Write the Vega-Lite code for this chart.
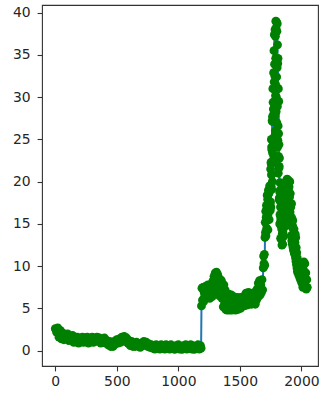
{
  "$schema": "https://vega.github.io/schema/vega-lite/v6.json",
  "width": 276,
  "height": 361,
  "autosize": {"type": "none"},
  "padding": {"left": 42, "top": 5, "right": 2, "bottom": 30},
  "background": "white",
  "config": {
    "view": {"stroke": "#333333", "strokeWidth": 1.1},
    "axis": {"grid": false, "domain": false, "tickColor": "#333333", "tickWidth": 1.1, "tickSize": 4.9, "labelFont": "DejaVu Sans", "labelFontSize": 13.9, "labelColor": "#262626", "title": null}
  },
  "data": {"values": [
    {"x":0,"y":2.6},{"x":10,"y":2.2},{"x":20,"y":2.7},{"x":30,"y":1.6},{"x":40,"y":2.4},{"x":50,"y":1.4},{"x":60,"y":2.1},{"x":70,"y":1.3},{"x":80,"y":1.9},{"x":90,"y":1.5},
    {"x":100,"y":2.0},{"x":110,"y":1.2},{"x":120,"y":1.7},{"x":130,"y":1.3},{"x":140,"y":1.8},{"x":150,"y":1.0},{"x":160,"y":1.5},{"x":170,"y":1.1},{"x":180,"y":1.6},{"x":190,"y":0.9},
    {"x":200,"y":1.4},{"x":210,"y":1.2},{"x":220,"y":1.6},{"x":230,"y":1.0},{"x":240,"y":1.5},{"x":250,"y":1.1},{"x":260,"y":1.6},{"x":270,"y":0.9},{"x":280,"y":1.4},{"x":290,"y":1.2},
    {"x":300,"y":1.6},{"x":310,"y":1.0},{"x":320,"y":1.5},{"x":330,"y":1.1},{"x":340,"y":1.6},{"x":350,"y":1.2},{"x":360,"y":1.5},{"x":370,"y":0.9},{"x":380,"y":1.4},{"x":390,"y":1.1},
    {"x":400,"y":1.5},{"x":410,"y":0.9},{"x":420,"y":1.2},{"x":430,"y":0.7},{"x":440,"y":1.1},{"x":450,"y":0.5},{"x":460,"y":1.0},{"x":470,"y":0.5},{"x":480,"y":1.1},{"x":490,"y":0.8},
    {"x":500,"y":1.3},{"x":510,"y":0.9},{"x":520,"y":1.4},{"x":530,"y":1.0},{"x":540,"y":1.6},{"x":550,"y":1.2},{"x":560,"y":1.7},{"x":570,"y":1.1},{"x":580,"y":1.5},{"x":590,"y":0.9},
    {"x":600,"y":1.2},{"x":610,"y":0.6},{"x":620,"y":1.1},{"x":630,"y":0.5},{"x":640,"y":0.9},{"x":650,"y":0.5},{"x":660,"y":1.0},{"x":670,"y":0.6},{"x":680,"y":0.8},{"x":690,"y":0.4},
    {"x":700,"y":0.9},{"x":710,"y":0.6},{"x":720,"y":1.1},{"x":730,"y":0.7},{"x":740,"y":1.0},{"x":750,"y":0.5},{"x":760,"y":0.8},{"x":770,"y":0.4},{"x":780,"y":0.7},{"x":790,"y":0.3},
    {"x":800,"y":0.6},{"x":810,"y":0.2},{"x":820,"y":0.7},{"x":830,"y":0.3},{"x":840,"y":0.6},{"x":850,"y":0.2},{"x":860,"y":0.7},{"x":870,"y":0.4},{"x":880,"y":0.6},{"x":890,"y":0.2},
    {"x":900,"y":0.7},{"x":910,"y":0.3},{"x":920,"y":0.6},{"x":930,"y":0.2},{"x":940,"y":0.7},{"x":950,"y":0.3},{"x":960,"y":0.5},{"x":970,"y":0.15},{"x":980,"y":0.6},{"x":990,"y":0.3},
    {"x":1000,"y":0.7},{"x":1010,"y":0.2},{"x":1020,"y":0.5},{"x":1030,"y":0.15},{"x":1040,"y":0.6},{"x":1050,"y":0.3},{"x":1060,"y":0.7},{"x":1070,"y":0.2},{"x":1080,"y":0.6},{"x":1090,"y":0.3},
    {"x":1100,"y":0.7},{"x":1110,"y":0.2},{"x":1120,"y":0.6},{"x":1130,"y":0.15},{"x":1140,"y":0.5},{"x":1150,"y":0.3},{"x":1160,"y":0.7},{"x":1170,"y":0.2},{"x":1180,"y":0.6},{"x":1185,"y":0.3},
    {"x":1188,"y":5.3},{"x":1192,"y":7.4},{"x":1196,"y":6.0},{"x":1200,"y":7.5},{"x":1205,"y":5.8},{"x":1210,"y":6.9},{"x":1215,"y":6.4},{"x":1220,"y":7.6},{"x":1225,"y":6.2},{"x":1230,"y":7.2},
    {"x":1235,"y":6.5},{"x":1240,"y":7.8},{"x":1245,"y":6.3},{"x":1250,"y":7.5},{"x":1255,"y":6.2},{"x":1260,"y":7.0},{"x":1265,"y":6.6},{"x":1270,"y":7.9},{"x":1275,"y":6.4},{"x":1280,"y":8.2},
    {"x":1285,"y":6.8},{"x":1290,"y":8.8},{"x":1295,"y":7.3},{"x":1300,"y":9.2},{"x":1305,"y":7.8},{"x":1310,"y":9.3},{"x":1315,"y":8.0},{"x":1320,"y":9.0},{"x":1325,"y":7.2},{"x":1330,"y":8.6},
    {"x":1335,"y":6.5},{"x":1340,"y":8.4},{"x":1345,"y":7.0},{"x":1350,"y":8.3},{"x":1355,"y":6.2},{"x":1360,"y":7.5},{"x":1365,"y":5.2},{"x":1370,"y":7.8},{"x":1375,"y":5.5},{"x":1380,"y":7.2},
    {"x":1385,"y":4.9},{"x":1390,"y":6.6},{"x":1395,"y":4.8},{"x":1400,"y":6.5},{"x":1405,"y":5.0},{"x":1410,"y":6.7},{"x":1415,"y":4.8},{"x":1420,"y":6.0},{"x":1425,"y":5.3},{"x":1430,"y":6.6},
    {"x":1435,"y":4.8},{"x":1440,"y":5.9},{"x":1445,"y":5.0},{"x":1450,"y":6.4},{"x":1455,"y":4.9},{"x":1460,"y":6.2},{"x":1465,"y":4.8},{"x":1470,"y":5.8},{"x":1475,"y":5.1},{"x":1480,"y":6.3},
    {"x":1485,"y":4.9},{"x":1490,"y":5.9},{"x":1495,"y":5.2},{"x":1500,"y":6.2},{"x":1505,"y":5.0},{"x":1510,"y":6.3},{"x":1515,"y":5.3},{"x":1520,"y":6.0},{"x":1525,"y":5.5},{"x":1530,"y":6.4},
    {"x":1535,"y":5.3},{"x":1540,"y":6.5},{"x":1545,"y":5.6},{"x":1550,"y":6.8},{"x":1555,"y":5.4},{"x":1560,"y":6.6},{"x":1565,"y":5.8},{"x":1570,"y":6.9},{"x":1575,"y":5.5},{"x":1580,"y":6.7},
    {"x":1585,"y":5.7},{"x":1590,"y":6.4},{"x":1595,"y":5.5},{"x":1600,"y":6.8},{"x":1605,"y":5.6},{"x":1610,"y":6.5},{"x":1615,"y":5.8},{"x":1620,"y":6.9},{"x":1625,"y":5.5},{"x":1630,"y":6.6},
    {"x":1635,"y":6.0},{"x":1640,"y":7.3},{"x":1645,"y":6.3},{"x":1650,"y":8.0},{"x":1655,"y":6.5},{"x":1660,"y":8.3},{"x":1665,"y":6.6},{"x":1670,"y":7.8},{"x":1675,"y":6.9},{"x":1680,"y":8.4},
    {"x":1685,"y":7.2},{"x":1690,"y":9.8},{"x":1693,"y":11.2},{"x":1696,"y":10.3},{"x":1699,"y":11.4},{"x":1702,"y":10.1},
    {"x":1704,"y":13.4},{"x":1706,"y":15.2},{"x":1708,"y":14.0},{"x":1710,"y":16.5},{"x":1712,"y":13.6},{"x":1714,"y":15.8},{"x":1716,"y":17.2},{"x":1718,"y":14.5},{"x":1720,"y":16.8},{"x":1722,"y":18.4},
    {"x":1724,"y":15.6},{"x":1726,"y":17.9},{"x":1728,"y":14.3},{"x":1730,"y":16.2},{"x":1732,"y":19.0},{"x":1734,"y":17.0},{"x":1736,"y":18.6},{"x":1738,"y":15.5},{"x":1740,"y":17.4},{"x":1742,"y":19.5},
    {"x":1744,"y":19.0},{"x":1745,"y":17.3},{"x":1746,"y":19.1},{"x":1747,"y":16.6},{"x":1748,"y":19.2},{"x":1749,"y":17.6},{"x":1750,"y":21.5},{"x":1751,"y":19.4},{"x":1752,"y":17.0},{"x":1753,"y":22.3},
    {"x":1754,"y":19.5},{"x":1755,"y":22.1},{"x":1756,"y":25.0},{"x":1757,"y":20.8},{"x":1758,"y":24.1},{"x":1759,"y":19.1},{"x":1760,"y":23.8},{"x":1761,"y":20.9},{"x":1762,"y":27.2},{"x":1763,"y":23.7},
    {"x":1764,"y":20.0},{"x":1765,"y":27.7},{"x":1766,"y":23.4},{"x":1767,"y":27.1},{"x":1768,"y":31.0},{"x":1769,"y":24.8},{"x":1770,"y":29.4},{"x":1771,"y":22.3},{"x":1772,"y":28.6},{"x":1773,"y":24.5},
    {"x":1774,"y":32.9},{"x":1775,"y":28.0},{"x":1776,"y":23.0},{"x":1777,"y":35.5},{"x":1778,"y":27.2},{"x":1779,"y":31.8},{"x":1780,"y":37.4},{"x":1781,"y":28.6},{"x":1782,"y":33.9},{"x":1783,"y":25.4},
    {"x":1784,"y":32.5},{"x":1785,"y":27.8},{"x":1786,"y":38.0},{"x":1787,"y":31.4},{"x":1788,"y":26.0},{"x":1789,"y":37.2},{"x":1790,"y":30.2},{"x":1791,"y":34.6},{"x":1792,"y":39.0},{"x":1793,"y":31.4},
    {"x":1794,"y":38.2},{"x":1795,"y":28.3},{"x":1796,"y":34.6},{"x":1797,"y":30.0},{"x":1798,"y":38.9},{"x":1799,"y":32.4},{"x":1800,"y":27.0},{"x":1801,"y":37.8},{"x":1802,"y":29.6},{"x":1803,"y":33.5},
    {"x":1804,"y":38.7},{"x":1805,"y":28.9},{"x":1806,"y":36.2},{"x":1807,"y":24.1},{"x":1808,"y":34.0},{"x":1809,"y":24.9},{"x":1810,"y":34.6},{"x":1811,"y":26.6},{"x":1812,"y":21.0},{"x":1813,"y":31.0},
    {"x":1814,"y":23.0},{"x":1815,"y":25.7},{"x":1816,"y":29.5},{"x":1817,"y":21.6},{"x":1818,"y":24.4},{"x":1819,"y":17.9},{"x":1820,"y":21.8},{"x":1821,"y":18.1},{"x":1822,"y":22.8},{"x":1823,"y":18.8},
    {"x":1824,"y":15.0},{"x":1825,"y":19.9},{"x":1826,"y":16.1},{"x":1827,"y":17.7},{"x":1828,"y":19.0},{"x":1829,"y":15.2},{"x":1830,"y":17.0},{"x":1831,"y":13.3},{"x":1832,"y":15.7},
    {"x":1834,"y":14.8},{"x":1836,"y":15.6},{"x":1838,"y":13.2},
    {"x":1840,"y":14.4},{"x":1842,"y":12.5},{"x":1844,"y":13.8},{"x":1846,"y":15.2},{"x":1848,"y":12.6},{"x":1850,"y":14.0},{"x":1852,"y":16.4},{"x":1854,"y":13.5},{"x":1856,"y":15.8},{"x":1858,"y":17.6},
    {"x":1860,"y":14.6},{"x":1862,"y":16.8},{"x":1864,"y":18.5},{"x":1866,"y":15.4},{"x":1868,"y":17.8},{"x":1870,"y":19.2},{"x":1872,"y":16.3},{"x":1874,"y":18.6},{"x":1876,"y":19.8},{"x":1878,"y":17.2},
    {"x":1880,"y":20.2},{"x":1882,"y":18.4},{"x":1884,"y":20.3},{"x":1886,"y":17.6},{"x":1888,"y":19.6},{"x":1890,"y":20.2},{"x":1892,"y":16.8},{"x":1894,"y":19.0},{"x":1896,"y":20.1},{"x":1898,"y":17.5},
    {"x":1900,"y":19.4},{"x":1902,"y":15.8},{"x":1904,"y":18.2},{"x":1906,"y":20.0},{"x":1908,"y":16.4},{"x":1910,"y":18.6},{"x":1912,"y":14.8},{"x":1914,"y":17.0},{"x":1916,"y":13.6},{"x":1918,"y":15.8},
    {"x":1920,"y":17.4},{"x":1922,"y":13.0},{"x":1924,"y":15.6},{"x":1926,"y":12.6},{"x":1928,"y":14.8},{"x":1930,"y":15.4},{"x":1932,"y":12.2},{"x":1934,"y":14.4},{"x":1936,"y":11.9},{"x":1938,"y":13.6},
    {"x":1940,"y":14.4},{"x":1942,"y":11.6},{"x":1944,"y":13.2},{"x":1946,"y":11.4},{"x":1948,"y":12.8},{"x":1950,"y":13.8},{"x":1952,"y":11.0},{"x":1954,"y":13.4},{"x":1956,"y":10.6},{"x":1958,"y":12.2},
    {"x":1960,"y":10.2},{"x":1962,"y":11.6},{"x":1964,"y":9.8},{"x":1966,"y":11.0},{"x":1968,"y":9.4},{"x":1970,"y":10.6},{"x":1972,"y":9.2},{"x":1976,"y":10.4},{"x":1980,"y":8.9},{"x":1984,"y":10.0},
    {"x":1988,"y":8.6},{"x":1992,"y":9.6},{"x":1996,"y":8.3},{"x":2000,"y":9.2},{"x":2004,"y":8.0},{"x":2008,"y":8.8},{"x":2012,"y":7.5},{"x":2016,"y":9.6},{"x":2020,"y":10.5},{"x":2024,"y":8.8},
    {"x":2028,"y":10.3},{"x":2032,"y":7.6},{"x":2036,"y":9.2},{"x":2040,"y":7.3},{"x":2044,"y":8.4},{"x":2048,"y":7.5}
  ]},
  "encoding": {
    "x": {"field": "x", "type": "quantitative", "scale": {"domain": [-108, 2135], "nice": false, "zero": false}, "axis": {"values": [0, 500, 1000, 1500, 2000], "format": "d", "labelPadding": 4}},
    "y": {"field": "y", "type": "quantitative", "scale": {"domain": [-1.81, 40.91], "nice": false, "zero": false}, "axis": {"values": [0, 5, 10, 15, 20, 25, 30, 35, 40], "format": "d", "labelPadding": 7}}
  },
  "layer": [
    {"mark": {"type": "line", "color": "#1f77b4", "strokeWidth": 2}},
    {"mark": {"type": "point", "filled": true, "color": "#008000", "size": 78, "opacity": 1}}
  ]
}
